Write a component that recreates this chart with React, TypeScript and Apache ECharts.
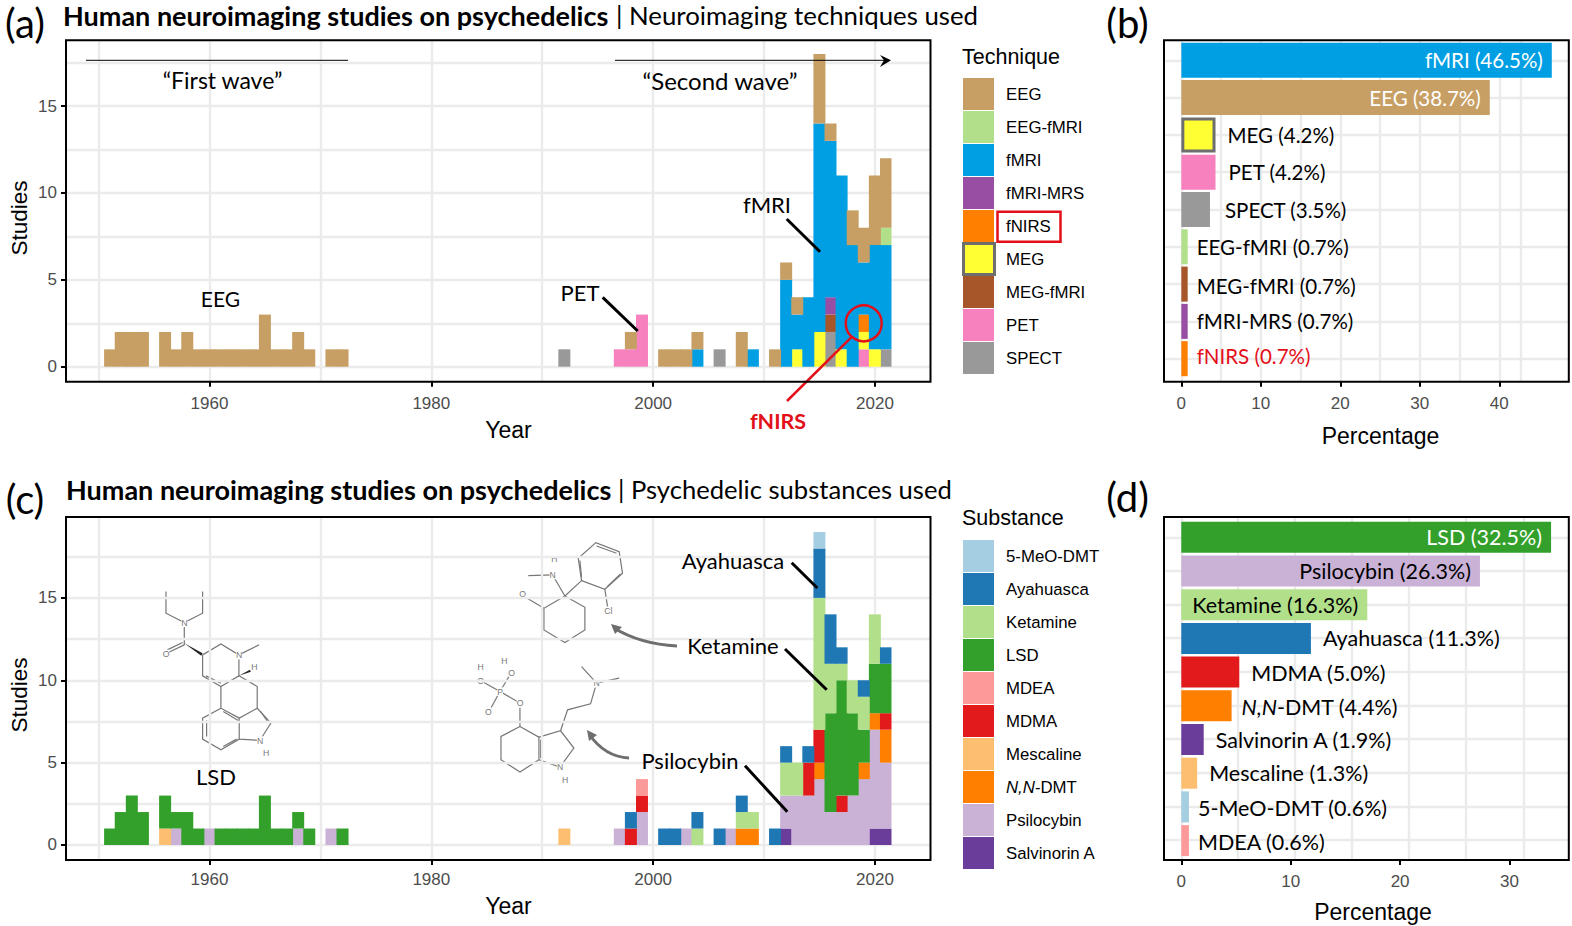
import { useEffect, useRef } from 'react'
import * as echarts from 'echarts'

type Pair = [number, number]

const serif = 'Lato'
const helv = '"Liberation Sans"'

const years: string[] = []
for (let y = 1951; y <= 2021; y++) years.push(String(y))

// panel (a): studies per year, per technique
const eeg: Pair[] = [[1951, 1], [1952, 2], [1953, 2], [1954, 2], [1956, 2], [1957, 1], [1958, 2], [1959, 1], [1960, 1], [1961, 1], [1962, 1], [1963, 1], [1964, 1], [1965, 3], [1966, 1], [1967, 1], [1968, 2], [1969, 1], [1971, 1], [1972, 1], [1998, 1], [2001, 1], [2002, 1], [2003, 1], [2004, 1], [2008, 2], [2011, 1], [2012, 1], [2013, 1], [2015, 4], [2016, 1], [2018, 2], [2019, 2], [2020, 4], [2021, 4]]
const eegFmri: Pair[] = [[2021, 1]]
const fmri: Pair[] = [[2004, 1], [2009, 1], [2012, 5], [2013, 2], [2014, 4], [2015, 12], [2016, 9], [2017, 10], [2018, 7], [2019, 3], [2020, 6], [2021, 6]]
const fmriMrs: Pair[] = [[2016, 1]]
const fnirs: Pair[] = [[2019, 1]]
const meg: Pair[] = [[2013, 1], [2015, 2], [2017, 1], [2019, 1], [2020, 1]]
const megFmri: Pair[] = [[2016, 1]]
const pet: Pair[] = [[1997, 1], [1998, 1], [1999, 3], [2019, 1]]
const spect: Pair[] = [[1992, 1], [2006, 1], [2016, 2], [2021, 1]]

// panel (c): studies per year, per substance
const meoDmt: Pair[] = [[2015, 1]]
const ayahuasca: Pair[] = [[1998, 1], [2001, 1], [2002, 1], [2004, 1], [2006, 1], [2008, 1], [2011, 1], [2012, 1], [2014, 1], [2015, 3], [2016, 3], [2017, 1], [2019, 1], [2021, 1]]
const ketamine: Pair[] = [[2004, 1], [2008, 1], [2009, 1], [2012, 2], [2013, 2], [2015, 8], [2016, 3], [2017, 1], [2018, 2], [2019, 2], [2020, 3]]
const lsd: Pair[] = [[1951, 1], [1952, 2], [1953, 3], [1954, 2], [1956, 2], [1957, 1], [1958, 2], [1959, 1], [1961, 1], [1962, 1], [1963, 1], [1964, 1], [1965, 3], [1966, 1], [1967, 1], [1968, 1], [1969, 1], [1972, 1], [2016, 6], [2017, 7], [2018, 5], [2019, 2], [2020, 3], [2021, 3]]
const mdea: Pair[] = [[1999, 1]]
const mdma: Pair[] = [[1998, 1], [1999, 1], [2014, 2], [2015, 2], [2017, 1], [2021, 1]]
const mescaline: Pair[] = [[1956, 1], [1992, 1]]
const nnDmt: Pair[] = [[2008, 1], [2009, 1], [2015, 1], [2019, 1], [2020, 1], [2021, 2]]
const psilocybin: Pair[] = [[1957, 1], [1960, 1], [1968, 1], [1971, 1], [1997, 1], [1999, 2], [2003, 1], [2007, 1], [2012, 2], [2013, 3], [2014, 3], [2015, 4], [2016, 2], [2017, 2], [2018, 3], [2019, 4], [2020, 6], [2021, 4]]
const salvinorin: Pair[] = [[2012, 1], [2020, 1], [2021, 1]]

// legend order, top to bottom; stacks are drawn in the reverse order
const techniques: [string, string, Pair[]][] = [
  ['EEG', '#c79f65', eeg],
  ['EEG-fMRI', '#b2df8a', eegFmri],
  ['fMRI', '#009fe3', fmri],
  ['fMRI-MRS', '#984ea3', fmriMrs],
  ['fNIRS', '#ff7f00', fnirs],
  ['MEG', '#ffff33', meg],
  ['MEG-fMRI', '#a65628', megFmri],
  ['PET', '#f781bf', pet],
  ['SPECT', '#999999', spect],
]
const substances: [string, string, Pair[]][] = [
  ['5-MeO-DMT', '#a6cee3', meoDmt],
  ['Ayahuasca', '#1f78b4', ayahuasca],
  ['Ketamine', '#b2df8a', ketamine],
  ['LSD', '#33a02c', lsd],
  ['MDEA', '#fb9a99', mdea],
  ['MDMA', '#e31a1c', mdma],
  ['Mescaline', '#fdbf6f', mescaline],
  ['N,N-DMT', '#ff7f00', nnDmt],
  ['Psilocybin', '#cab2d6', psilocybin],
  ['Salvinorin A', '#6a3d9a', salvinorin],
]

// panel (b)
const techOrder = ['fMRI', 'EEG', 'MEG', 'PET', 'SPECT', 'EEG-fMRI', 'MEG-fMRI', 'fMRI-MRS', 'fNIRS']
const techBars = [46.6, 38.8, 4.3, 4.3, 3.6, 0.8, 0.8, 0.8, 0.8]
const techPct = ['46.5', '38.7', '4.2', '4.2', '3.5', '0.7', '0.7', '0.7', '0.7']
const techGap = [9, 9, 12, 13, 15, 9, 9, 9, 9]
const techDy = [0, 0, 0, 0, 0, 0, 2, 0, -3]

// panel (d): bars run a little longer than the printed percentages
const subOrder = ['LSD', 'Psilocybin', 'Ketamine', 'Ayahuasca', 'MDMA', 'N,N-DMT', 'Salvinorin A', 'Mescaline', '5-MeO-DMT', 'MDEA']
const subBars = [33.8, 27.3, 17.0, 11.85, 5.3, 4.6, 2.05, 1.45, 0.7, 0.7]
const subPct = ['32.5', '26.3', '16.3', '11.3', '5.0', '4.4', '1.9', '1.3', '0.6', '0.6']
const subGap = [9, 9, 9, 12, 12, 10, 12, 12, 9, 9]
const subDy = [0, 0, 0, 0, 1, 1, 0, 0, 1, 1]

const GRID = '#ebebeb'
const RED = '#e3101a'
const MOL = '#777777'

const expand = (pairs: Pair[]) => years.map((y) => {
  const hit = pairs.find((p) => String(p[0]) === y)
  return hit ? hit[1] : 0
})

const colorOf = (list: [string, string, Pair[]][], name: string) => list.find((t) => t[0] === name)![1]

// --- molecules, in the coordinates of a 3x working sketch
const lsdBonds = [
  [[78, 185], [78, 250], [133, 278], [188, 250], [188, 185]],
  [[133, 278], [133, 345]],
  [[133, 345], [85, 368]],
  [[128, 338], [82, 360]],
  [[188, 375], [243, 342], [297, 375], [297, 438], [243, 470], [188, 438], [188, 375]],
  [[297, 375], [357, 345]],
  [[297, 438], [352, 470], [352, 535], [393, 580], [360, 632], [298, 628], [298, 565], [352, 535]],
  [[243, 470], [243, 535], [298, 565]],
  [[243, 535], [188, 565], [188, 628], [243, 660], [298, 628]],
  [[198, 438], [243, 460]],
  [[200, 572], [200, 620]],
  [[250, 545], [295, 572]],
  [[362, 545], [385, 578]],
  [[250, 650], [290, 628]],
]
const lsdWedges = [
  [[133, 340], [188, 370], [184, 378]],
  [[297, 438], [330, 420], [333, 426]],
]
const ketBonds = [
  [[285, 198], [222, 235], [222, 300], [285, 338], [345, 300], [345, 232], [285, 198]],
  [[222, 235], [168, 203]],
  [[285, 198], [248, 135]],
  [[248, 135], [175, 137]],
  [[285, 198], [335, 152], [325, 85], [378, 38], [448, 65], [458, 130], [405, 178], [335, 152]],
  [[405, 178], [413, 230]],
  [[380, 48], [440, 70]],
  [[412, 170], [452, 132]],
  [[335, 142], [330, 92]],
]
const psiBonds = [
  [[150, 590], [93, 620], [93, 690], [150, 727], [207, 690], [207, 622], [150, 590]],
  [[207, 622], [272, 603], [312, 655], [270, 712], [207, 690]],
  [[272, 603], [293, 540], [362, 522], [380, 460], [335, 410]],
  [[380, 460], [448, 445]],
  [[150, 590], [150, 528]],
  [[142, 515], [90, 485]],
  [[90, 485], [122, 432]],
  [[90, 485], [42, 458]],
  [[90, 485], [60, 540]],
  [[212, 630], [212, 685]],
]
const molLabels: [string, number, number][] = [
  ['O', 78, 372], ['N', 133, 278], ['N', 297, 375], ['H', 343, 412], ['H', 378, 668], ['N', 360, 632],
]
const ketLabels: [string, number, number][] = [['O', 158, 193], ['N', 248, 135], ['H', 253, 88], ['Cl', 415, 243]]
const psiLabels: [string, number, number][] = [
  ['O', 150, 520], ['P', 90, 485], ['O', 125, 428], ['H', 103, 392], ['O', 32, 452], ['H', 32, 410], ['O', 55, 545],
  ['N', 380, 460], ['N', 270, 712], ['H', 285, 750],
]

function molecule(x: number, y: number, bonds: number[][][], labels: [string, number, number][], wedges: number[][][] = []) {
  return {
    type: 'group', x, y, scaleX: 1 / 3, scaleY: 1 / 3, z: 5,
    children: [
      ...bonds.map((points) => ({
        type: 'polyline',
        shape: { points },
        style: { stroke: MOL, lineWidth: 3.6, fill: 'none' },
      })),
      ...wedges.map((points) => ({ type: 'polygon', shape: { points }, style: { fill: '#222' } })),
      ...labels.map(([text, lx, ly]) => ({
        type: 'text', x: lx, y: ly,
        style: { text, fill: MOL, fontSize: 26, fontFamily: helv, align: 'center', verticalAlign: 'middle', backgroundColor: '#fff' },
      })),
    ],
  }
}

const note = (text: string, x: number, y: number, size = 22, extra: object = {}) => ({
  type: 'text', x, y, z: 20,
  style: { text, fill: '#000', fontSize: size, fontFamily: serif, align: 'center', verticalAlign: 'middle', ...extra },
})
const helvNote = (text: string, x: number, y: number, size: number, rotation = 0) => ({
  ...note(text, x, y, size, { fontFamily: helv }), rotation,
})
const rule = (x1: number, y1: number, x2: number, y2: number, width = 3, color = '#000') => ({
  type: 'line', z: 20,
  shape: { x1, y1, x2, y2 },
  style: { stroke: color, lineWidth: width },
})
const box = (x: number, y: number, width: number, height: number, stroke = '#000', lineWidth = 2) => ({
  type: 'rect', z: 30,
  shape: { x, y, width, height },
  style: { fill: 'none', stroke, lineWidth },
})
const curve = (x1: number, y1: number, cx: number, cy: number, x2: number, y2: number) => ({
  type: 'bezierCurve', z: 20,
  shape: { x1, y1, cpx1: cx, cpy1: cy, x2, y2 },
  style: { stroke: '#6e6e6e', lineWidth: 3, fill: 'none' },
})
const head = (points: number[][]) => ({
  type: 'polygon', z: 20, shape: { points }, style: { fill: '#6e6e6e' },
})

function buildOption() {
  const xAxis: any[] = []
  const yAxis: any[] = []
  const tickStyle = { show: true, length: 5, lineStyle: { color: '#000', width: 2 } }
  const lineStyle = { color: GRID, width: 2.4 }
  const labelStyle = { color: '#4d4d4d', fontSize: 17, fontFamily: helv }
  const noLine = { show: false, onZero: false }
  const fmt = (v: number) => String(v)

  // backdrop axes: one visible axis for ticks and labels, one blank axis for the grid lines
  const addAxes = (gridIndex: number, xr: number[], yr: number[], xTicks: number[], xLines: number[], yLines: number[], margin: number, yTicks?: number[]) => {
    xAxis.push({
      gridIndex, type: 'value', min: xr[0], max: xr[1],
      axisLine: noLine, splitLine: { show: false },
      axisTick: { ...tickStyle, customValues: xTicks },
      axisLabel: { ...labelStyle, margin, customValues: xTicks, formatter: fmt },
    })
    xAxis.push({
      gridIndex, type: 'value', min: xr[0], max: xr[1],
      axisLine: noLine, axisLabel: { show: false },
      axisTick: { show: false, customValues: xLines },
      splitLine: { show: true, lineStyle },
    })
    if (yTicks) {
      yAxis.push({
        gridIndex, type: 'value', min: yr[0], max: yr[1],
        axisLine: noLine, splitLine: { show: false },
        axisTick: { ...tickStyle, customValues: yTicks },
        axisLabel: { ...labelStyle, margin: 9, customValues: yTicks, formatter: fmt },
      })
    } else {
      yAxis.push({ gridIndex, type: 'value', show: false, min: yr[0], max: yr[1] })
    }
    yAxis.push({
      gridIndex, type: 'value', min: yr[0], max: yr[1],
      axisLine: noLine, axisLabel: { show: false },
      axisTick: { show: false, customValues: yLines },
      splitLine: { show: true, lineStyle },
    })
  }

  const series: any[] = []

  // stacked histograms, on a category axis of their own laid over the backdrop
  const addStack = (list: [string, string, Pair[]][], gridIndex: number, yr: number[]) => {
    const xi = xAxis.length
    const yi = yAxis.length
    xAxis.push({ gridIndex, type: 'category', show: false, data: years })
    yAxis.push({ gridIndex, type: 'value', show: false, min: yr[0], max: yr[1], splitLine: { show: false } })
    ;[...list].reverse().forEach(([name, color, pairs]) => {
      series.push({
        type: 'bar', name, stack: `s${gridIndex}`, xAxisIndex: xi, yAxisIndex: yi,
        barWidth: 12,
        itemStyle: { color },
        emphasis: { disabled: true },
        data: expand(pairs),
      })
    })
  }

  // ranked bars with their text beside or inside
  const addRank = (names: string[], bars: number[], pct: string[], gaps: number[], dy: number[], list: [string, string, Pair[]][], gridIndex: number, xr: number[], barWidth: number, inside: Record<string, string>, size: number) => {
    const xi = xAxis.length
    const yi = yAxis.length
    xAxis.push({ gridIndex, type: 'value', show: false, min: xr[0], max: xr[1], splitLine: { show: false } })
    yAxis.push({ gridIndex, type: 'category', show: false, inverse: true, data: names })
    series.push({
      type: 'bar', xAxisIndex: xi, yAxisIndex: yi, barWidth,
      emphasis: { disabled: true },
      data: names.map((name, i) => {
        const isInside = name in inside
        const color = isInside ? inside[name] : name === 'fNIRS' ? RED : '#000'
        const shown = name === 'N,N-DMT' ? '{i|N,N}-DMT' : name
        return {
          value: bars[i],
          itemStyle: name === 'MEG'
            ? { color: colorOf(list, name), borderColor: '#6e6e6e', borderWidth: 3 }
            : { color: colorOf(list, name) },
          label: {
            show: true,
            position: isInside ? 'insideRight' : 'right',
            distance: gaps[i],
            offset: [0, dy[i]],
            color,
            fontSize: size,
            fontFamily: serif,
            rich: { i: { fontStyle: 'italic', fontSize: size, fontFamily: serif } },
            formatter: `${shown} (${pct[i]}%)`,
          },
        }
      }),
    })
  }

  const decades = [1950, 1960, 1970, 1980, 1990, 2000, 2010, 2020]
  const halfSteps = [0, 2.5, 5, 7.5, 10, 12.5, 15, 17.5]
  const yearRange = [1947.06, 2025.01]
  const aY = [-0.864, 18.79]
  const cY = [-0.911, 19.91]
  const bX = [-2.18, 48.74]
  const dX = [-1.58, 35.42]

  addAxes(0, yearRange, aY, [1960, 1980, 2000, 2020], decades, halfSteps, 13, [0, 5, 10, 15])
  addAxes(1, yearRange, cY, [1960, 1980, 2000, 2020], decades, halfSteps, 11, [0, 5, 10, 15])
  addAxes(2, bX, [-0.617, 8.536], [0, 10, 20, 30, 40], [0, 5, 10, 15, 20, 25, 30, 35, 40, 42.7], [0, 1, 2, 3, 4, 5, 6, 7, 8], 13)
  addAxes(3, dX, [-0.593, 9.602], [0, 10, 20, 30], [0, 5.2, 10.4, 15.6, 20.8, 26, 31.3], [0, 1, 2, 3, 4, 5, 6, 7, 8, 9], 13)
  addStack(techniques, 4, aY)
  addStack(substances, 5, cY)
  addRank(techOrder, techBars, techPct, techGap, techDy, techniques, 6, bX, 35, { fMRI: '#fff', EEG: '#fff' }, 20.5)
  addRank(subOrder, subBars, subPct, subGap, subDy, substances, 7, dX, 31, { LSD: '#fff', Psilocybin: '#000', Ketamine: '#000' }, 21.5)

  const legendBase = {
    orient: 'vertical', left: 963, icon: 'rect', itemWidth: 31, itemHeight: 32, itemGap: 1, padding: 0,
    selectedMode: false,
    textStyle: { color: '#000', fontSize: 16.8, fontFamily: helv, padding: [0, 0, 0, 7], rich: { i: { fontStyle: 'italic', fontSize: 16.8, fontFamily: helv } } },
  }

  return {
    animation: false,
    backgroundColor: '#fff',
    grid: [
      { left: 66, top: 40.3, width: 864.5, height: 341.4 },
      { left: 66, top: 517, width: 864.5, height: 343 },
      { left: 1164, top: 40.3, width: 404.8, height: 341.4 },
      { left: 1164, top: 517, width: 404.8, height: 343 },
      { left: 104.1, top: 40.3, width: 787.4, height: 341.4 },
      { left: 104.1, top: 517, width: 787.4, height: 343 },
      { left: 1164, top: 41.65, width: 404.8, height: 335.7 },
      { left: 1164, top: 520.45, width: 404.8, height: 337 },
    ],
    xAxis,
    yAxis,
    legend: [
      { ...legendBase, top: 78, data: techniques.map(([name]) => ({ name })) },
      {
        ...legendBase, top: 540,
        data: substances.map(([name]) => ({ name })),
        formatter: (name: string) => (name === 'N,N-DMT' ? '{i|N,N}-DMT' : name),
      },
    ],
    series,
    graphic: [
      box(66, 40.3, 864.5, 341.4),
      box(66, 517, 864.5, 343),
      box(1164, 40.3, 404.8, 341.4),
      box(1164, 517, 404.8, 343),
      box(963.5, 243.5, 31, 31, '#6e6e6e', 3),

      // panel tags and titles
      note('(a)', 25, 23, 40),
      note('(b)', 1127.5, 23, 40),
      note('(c)', 25, 499, 40),
      note('(d)', 1127.5, 497, 40),
      note('Human neuroimaging studies on psychedelics', 63, 15, 27, { align: 'left', fontWeight: 'bold' }),
      note('| Neuroimaging techniques used', 616, 15, 25.8, { align: 'left' }),
      note('Human neuroimaging studies on psychedelics', 66, 489, 27, { align: 'left', fontWeight: 'bold' }),
      note('| Psychedelic substances used', 618, 489, 25.6, { align: 'left' }),

      // axis titles and legend headings
      helvNote('Year', 508.5, 430, 23),
      helvNote('Year', 508.5, 906, 23),
      helvNote('Percentage', 1380.5, 436, 23),
      helvNote('Percentage', 1373, 912, 23),
      helvNote('Studies', 19, 218, 22.5, Math.PI / 2),
      helvNote('Studies', 19, 695, 22.5, Math.PI / 2),
      note('Technique', 962, 57, 21.5, { align: 'left', fontFamily: helv }),
      note('Substance', 962, 518, 21.5, { align: 'left', fontFamily: helv }),
      box(997.5, 211.7, 63, 30, RED, 2.5),

      // panel (a) notes
      rule(86, 60.3, 348, 60.3, 1),
      note('“First wave”', 222.5, 80, 23),
      rule(615, 60.3, 889, 60.3, 1),
      { type: 'polygon', z: 20, shape: { points: [[891, 60.3], [880, 55], [884, 60.3], [880, 67]] }, style: { fill: '#000' } },
      note('“Second wave”', 720, 80, 24),
      note('EEG', 220.5, 298, 21),
      note('PET', 580, 292),
      rule(602.7, 297.3, 637.7, 331),
      note('fMRI', 767, 204),
      rule(786.7, 219, 820, 251.7),
      { type: 'circle', z: 21, shape: { cx: 863.7, cy: 323.3, r: 18 }, style: { fill: 'none', stroke: RED, lineWidth: 2.5 } },
      rule(787, 401, 852, 336.7, 2.5, RED),
      note('fNIRS', 778, 421, 21.5, { fill: RED, fontWeight: 'bold' }),

      // panel (c) notes
      molecule(140, 530, lsdBonds, molLabels, lsdWedges),
      molecule(470, 530, ketBonds, ketLabels),
      molecule(470, 530, psiBonds, psiLabels),
      note('LSD', 216, 776),
      note('Ayahuasca', 733, 560),
      rule(791.7, 562.7, 817.3, 588),
      note('Ketamine', 733, 645),
      rule(785, 649, 826.7, 689.7),
      note('Psilocybin', 690, 760),
      rule(745, 765.7, 787.3, 811.7),
      curve(677, 646, 640, 644, 614, 628),
      head([[611, 624], [622, 627], [615, 634]]),
      curve(629, 758, 605, 757, 589, 734),
      head([[587, 730], [597, 735], [589, 741]]),
    ],
  }
}

export default function App() {
  const ref = useRef<HTMLDivElement>(null)

  useEffect(() => {
    if (!ref.current) return
    const chart = echarts.init(ref.current, undefined, { renderer: 'svg' })
    chart.setOption(buildOption() as any)
    return () => chart.dispose()
  }, [])

  return <div ref={ref} style={{ position: 'fixed', left: 0, top: 0, width: 1572, height: 926 }} />
}
